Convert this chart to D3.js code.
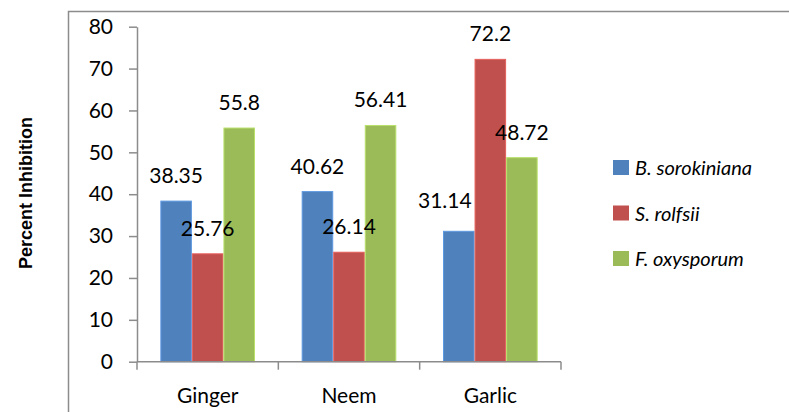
<!DOCTYPE html>
<html>
<head>
<meta charset="utf-8">
<script src="https://cdn.jsdelivr.net/npm/d3@7"></script>
<style>
  html, body { margin: 0; padding: 0; background: #fff; }
  svg { display: block; }
  text { font-family: Lato, "Open Sans", sans-serif; fill: #000; }
</style>
</head>
<body>
<svg id="chart" width="789" height="412"></svg>
<script>
// Extracts and their inhibition of three fungal pathogens
const categories = ["Ginger", "Neem", "Garlic"];
const seriesNames = ["B. sorokiniana", "S. rolfsii", "F. oxysporum"];
const seriesColors = ["#4F81BD", "#C0504D", "#9BBB59"];
const sorokiniana = [38.35, 40.62, 31.14];
const rolfsii = [25.76, 26.14, 72.2];
const oxysporum = [55.8, 56.41, 48.72];
const yTicks = [0, 10, 20, 30, 40, 50, 60, 70, 80];
const yTitle = "Percent Inhibition";

const seriesValues = [sorokiniana, rolfsii, oxysporum];

const svg = d3.select("#chart");
const W = 789, H = 412;

// outer chart frame (runs past the right and bottom edges)
svg.append("path")
  .attr("d", `M68.5,${H + 5}V11.5H${W + 5}`)
  .attr("fill", "none")
  .attr("stroke", "#8c8c8c")
  .attr("stroke-width", 1.5);

const plot = { left: 137, right: 561, top: 26.7, bottom: 361.7 };

const x0 = d3.scaleBand()
  .domain(categories)
  .range([plot.left, plot.right])
  .paddingInner(0)
  .paddingOuter(0);

const x1 = d3.scaleBand()
  .domain(seriesNames)
  .range([0, x0.bandwidth()])
  .paddingInner(0)
  .paddingOuter(0.74);

const y = d3.scaleLinear()
  .domain([0, 80])
  .range([plot.bottom, plot.top]);

// bars
const groups = svg.append("g").selectAll("g")
  .data(categories)
  .join("g")
  .attr("transform", d => `translate(${x0(d)},0)`);

const barData = (cat, ci) => seriesNames.map((s, si) => ({ cat, s, si, v: seriesValues[si][ci] }));

groups.selectAll("rect")
  .data((d, i) => barData(d, i))
  .join("rect")
  .attr("x", d => x1(d.s) + 0.5)
  .attr("y", d => y(d.v))
  .attr("width", x1.bandwidth() - 1)
  .attr("height", d => y(0) - y(d.v))
  .attr("fill", d => seriesColors[d.si])
  .attr("stroke", d => d3.color(seriesColors[d.si]).brighter(0.5))
  .attr("stroke-width", 1);

// value labels
groups.selectAll("text.val")
  .data((d, i) => barData(d, i))
  .join("text")
  .attr("class", "val")
  .attr("x", d => x1(d.s) + x1.bandwidth() / 2 + (d.cat === "Garlic" && d.si === 0 ? -14 : 0))
  .attr("y", d => y(d.v) - (d.cat === "Garlic" && d.si === 0 ? 23 : 18))
  .attr("text-anchor", "middle")
  .attr("font-size", 21)
  .text(d => d.v);

// y axis
const yAxis = svg.append("g")
  .attr("transform", `translate(${plot.left},0)`)
  .call(d3.axisLeft(y).tickValues(yTicks).tickSize(8).tickSizeOuter(0).tickPadding(16));
yAxis.select(".domain").attr("stroke", "#8c8c8c").attr("stroke-width", 1.5);
yAxis.selectAll(".tick line").attr("stroke", "#8c8c8c").attr("stroke-width", 1.5);
yAxis.selectAll(".tick text")
  .attr("font-size", 21)
  .attr("font-family", "Lato, sans-serif")
  .attr("fill", "#000");

// x axis with tick marks on category boundaries
const xg = svg.append("g");
xg.append("line")
  .attr("x1", plot.left).attr("x2", plot.right)
  .attr("y1", plot.bottom).attr("y2", plot.bottom)
  .attr("stroke", "#8c8c8c").attr("stroke-width", 1.5);
const bounds = categories.map(c => x0(c)).concat([x0(categories[categories.length - 1]) + x0.bandwidth()]);
xg.selectAll("line.tk")
  .data(bounds)
  .join("line")
  .attr("class", "tk")
  .attr("x1", d => d).attr("x2", d => d)
  .attr("y1", plot.bottom).attr("y2", plot.bottom + 8)
  .attr("stroke", "#8c8c8c").attr("stroke-width", 1.5);
xg.selectAll("text")
  .data(categories)
  .join("text")
  .attr("x", d => x0(d) + x0.bandwidth() / 2)
  .attr("y", 403)
  .attr("text-anchor", "middle")
  .attr("font-size", 21)
  .text(d => d);

// y axis title
svg.append("text")
  .attr("transform", `translate(32,193) rotate(-90)`)
  .attr("text-anchor", "middle")
  .style("font-family", "Arial, 'Liberation Sans', sans-serif")
  .attr("font-weight", "bold")
  .attr("font-size", 18)
  .text(yTitle);

// legend
const legend = svg.append("g").attr("transform", "translate(613,160)");
const items = legend.selectAll("g")
  .data(seriesNames)
  .join("g")
  .attr("transform", (d, i) => `translate(0,${i * 45.5})`);
items.append("rect")
  .attr("width", 16).attr("height", 15)
  .attr("fill", (d, i) => seriesColors[i]);
items.append("text")
  .attr("x", 22)
  .attr("y", 15)
  .attr("font-size", 20)
  .attr("font-style", "italic")
  .text(d => d);
</script>
</body>
</html>
